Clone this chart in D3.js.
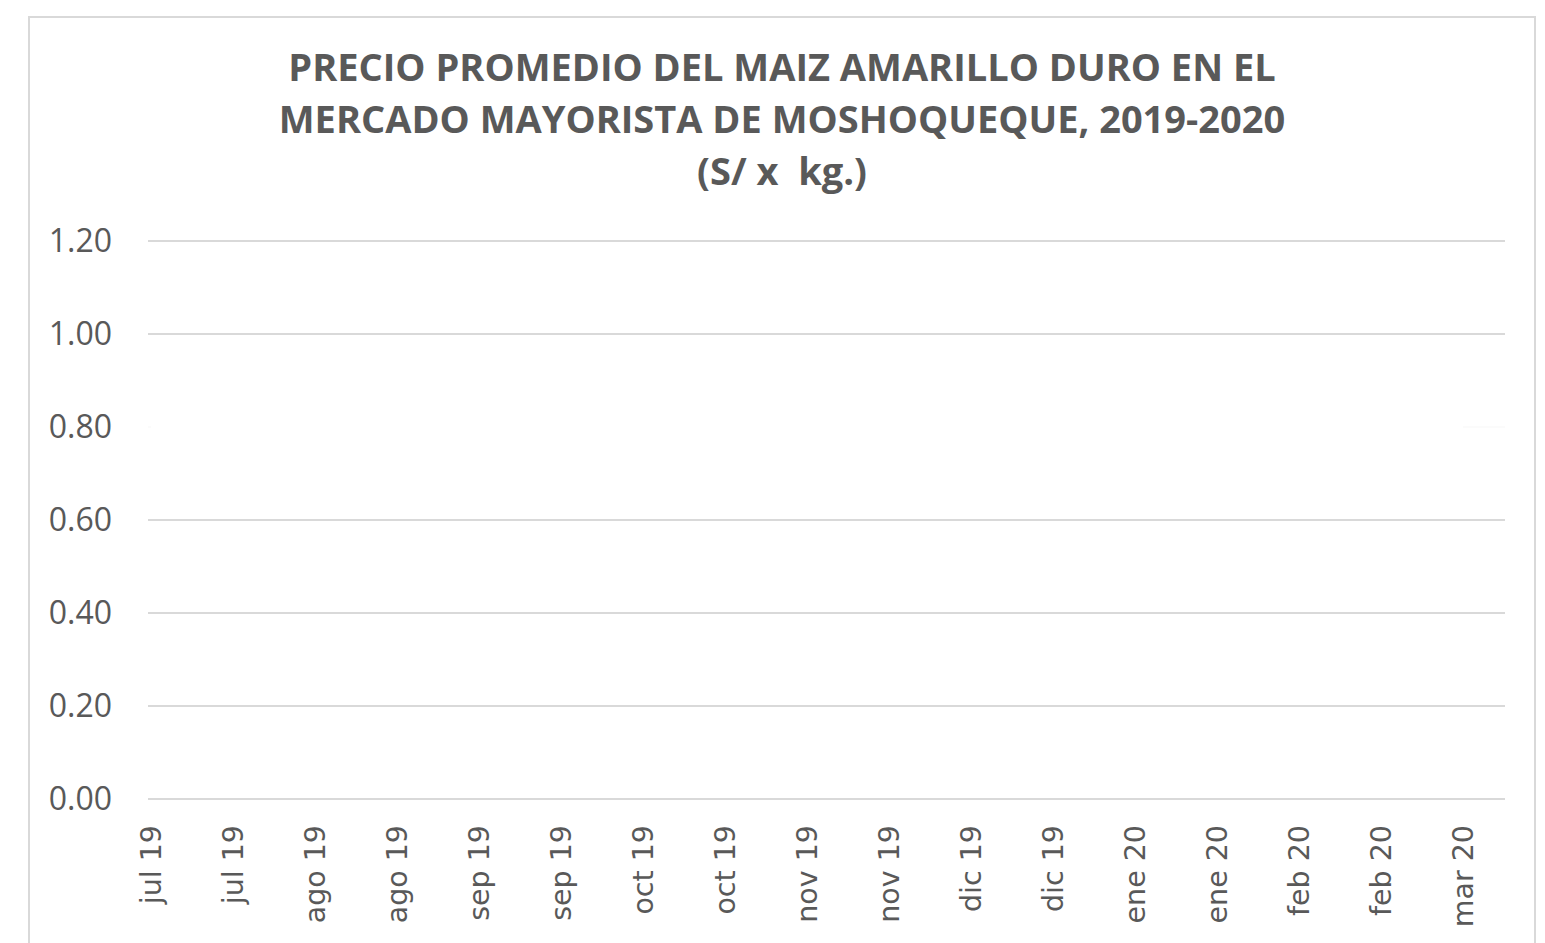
<!DOCTYPE html>
<html>
<head>
<meta charset="utf-8">
<script src="https://cdn.jsdelivr.net/npm/d3@7"></script>
<style>
  body { margin: 0; background: #fff; }
</style>
</head>
<body>
<div class="graph"></div>
<script>
// categories (x axis, one per half month)
var months = ["jul 19","jul 19","ago 19","ago 19","sep 19","sep 19","oct 19","oct 19","nov 19","nov 19",
              "dic 19","dic 19","ene 20","ene 20","feb 20","feb 20","mar 20"];
// precio promedio S/ x kg (the series is drawn white, it only hides the 0.80 gridline)
var precio = [0.80,0.80,0.80,0.80,0.80,0.80,0.80,0.80,0.80,0.80,0.80,0.80,0.80,0.80,0.80,0.80,0.80];
var yTicks = [0, 0.2, 0.4, 0.6, 0.8, 1.0, 1.2];
var titleLines = ["PRECIO PROMEDIO DEL MAIZ AMARILLO DURO EN EL",
                  "MERCADO MAYORISTA DE MOSHOQUEQUE, 2019-2020",
                  "(S/ x  kg.)"];

var width = 1545, height = 943;
var grey = "#595959";

var svg = d3.select(".graph").append("svg").attr("width", width).attr("height", height);

// chart frame
svg.append("rect").attr("x", 29).attr("y", 17).attr("width", 1506).attr("height", 960)
  .attr("fill", "#fff").attr("stroke", "#d9d9d9").attr("stroke-width", 2);

// title
svg.selectAll(".title").data(titleLines).enter().append("text")
  .attr("class", "title")
  .attr("x", 782)
  .attr("y", function (d, i) { return 81 + i * 52; })
  .attr("text-anchor", "middle")
  .attr("xml:space", "preserve")
  .style("white-space", "pre")
  .style("font-family", "'Open Sans', sans-serif")
  .style("font-weight", "bold")
  .style("font-size", "38px")
  .style("fill", grey)
  .text(function (d) { return d; });

var y = d3.scaleLinear().domain([0, 1.2]).range([799, 241]);
var x = d3.scalePoint().domain(d3.range(months.length)).range([151, 1463]);

// gridlines
svg.selectAll(".grid").data(yTicks).enter().append("line")
  .attr("x1", 148).attr("x2", 1505)
  .attr("y1", function (d) { return y(d); })
  .attr("y2", function (d) { return y(d); })
  .attr("stroke", "#d9d9d9").attr("stroke-width", 2);

// y labels
svg.selectAll(".ylab").data(yTicks).enter().append("text")
  .attr("x", 112)
  .attr("y", function (d) { return y(d); })
  .attr("dy", "0.35em")
  .attr("text-anchor", "end")
  .style("font-family", "'Open Sans', sans-serif")
  .style("font-size", "32px")
  .style("fill", grey)
  .text(function (d) { return d.toFixed(2); });

// series line (white), runs over the whole plot width like the gridline under it
var line = d3.line()
  .x(function (d, i) { return x(i); })
  .y(function (d) { return y(d); });
svg.append("path").datum(precio)
  .attr("d", line)
  .attr("fill", "none")
  .attr("stroke", "#fff")
  .attr("stroke-opacity", 0.88)
  .attr("stroke-width", 3);
svg.append("line").attr("x1", 148).attr("x2", 1505).attr("y1", y(precio[0])).attr("y2", y(precio[0]))
  .attr("stroke", "#fff").attr("stroke-opacity", 0.88).attr("stroke-width", 3);

// x labels
svg.selectAll(".xlab").data(months).enter().append("text")
  .attr("transform", function (d, i) { return "translate(" + x(i) + ",825) rotate(-90)"; })
  .attr("dy", "0.35em")
  .attr("text-anchor", "end")
  .style("font-family", "'DejaVu Sans', sans-serif")
  .style("font-size", "28.5px")
  .style("fill", grey)
  .text(function (d) { return d; });
</script>
</body>
</html>
